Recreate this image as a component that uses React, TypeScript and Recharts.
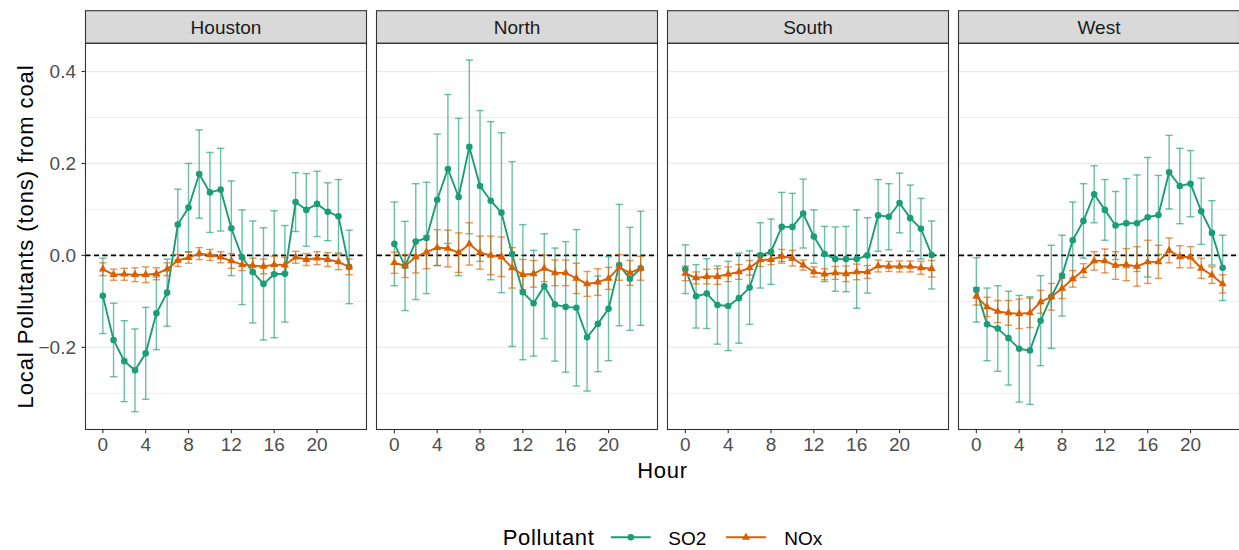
import React from 'react';
import { LineChart, Line, XAxis, YAxis, ErrorBar, ReferenceLine } from 'recharts';

const HOURS = [0, 1, 2, 3, 4, 5, 6, 7, 8, 9, 10, 11, 12, 13, 14, 15, 16, 17, 18, 19, 20, 21, 22, 23];
const REGIONS = ['Houston', 'North', 'South', 'West'];
const POLLUTANTS = ['SO2', 'NOx'];
const X_TICKS = [0, 4, 8, 12, 16, 20];
const Y_TICKS = [-0.2, 0, 0.2, 0.4];
const MINOR_GRID = [-0.3, -0.1, 0.1, 0.3];

const HOUSTON_SO2 = [-0.088, -0.184, -0.230, -0.250, -0.213, -0.126, -0.081, 0.067, 0.104, 0.177, 0.137, 0.143, 0.059, -0.004, -0.036, -0.062, -0.041, -0.040, 0.116, 0.099, 0.112, 0.095, 0.085, -0.025];
const HOUSTON_SO2_CI = [0.082, 0.080, 0.088, 0.090, 0.100, 0.079, 0.073, 0.077, 0.096, 0.096, 0.087, 0.090, 0.103, 0.103, 0.111, 0.122, 0.138, 0.105, 0.064, 0.079, 0.071, 0.063, 0.080, 0.080];
const HOUSTON_NOX = [-0.030, -0.042, -0.041, -0.042, -0.042, -0.040, -0.030, -0.011, -0.005, 0.004, 0.001, -0.004, -0.012, -0.020, -0.022, -0.024, -0.020, -0.021, -0.004, -0.009, -0.006, -0.009, -0.014, -0.025];
const HOUSTON_NOX_CI = [0.014, 0.012, 0.013, 0.015, 0.017, 0.013, 0.014, 0.013, 0.012, 0.013, 0.012, 0.012, 0.016, 0.013, 0.016, 0.016, 0.018, 0.017, 0.013, 0.013, 0.014, 0.015, 0.017, 0.017];

const NORTH_SO2 = [0.025, -0.023, 0.030, 0.038, 0.121, 0.188, 0.127, 0.236, 0.151, 0.119, 0.093, 0.003, -0.080, -0.104, -0.067, -0.107, -0.112, -0.114, -0.178, -0.149, -0.116, -0.021, -0.051, -0.028];
const NORTH_SO2_CI = [0.091, 0.097, 0.126, 0.121, 0.143, 0.162, 0.171, 0.189, 0.164, 0.172, 0.174, 0.201, 0.147, 0.115, 0.114, 0.123, 0.142, 0.170, 0.117, 0.104, 0.113, 0.132, 0.112, 0.124];
const NORTH_NOX = [-0.016, -0.023, -0.003, 0.007, 0.017, 0.015, 0.006, 0.025, 0.006, 0.000, -0.003, -0.027, -0.042, -0.040, -0.028, -0.038, -0.038, -0.050, -0.062, -0.058, -0.050, -0.026, -0.038, -0.028];
const NORTH_NOX_CI = [0.023, 0.025, 0.035, 0.036, 0.039, 0.040, 0.043, 0.046, 0.036, 0.042, 0.043, 0.044, 0.033, 0.029, 0.029, 0.028, 0.028, 0.033, 0.027, 0.029, 0.024, 0.028, 0.027, 0.026];

const SOUTH_SO2 = [-0.030, -0.089, -0.083, -0.108, -0.110, -0.093, -0.070, 0.000, 0.008, 0.062, 0.062, 0.091, 0.041, 0.003, -0.008, -0.008, -0.008, 0.000, 0.087, 0.084, 0.114, 0.081, 0.058, 0.001];
const SOUTH_SO2_CI = [0.053, 0.069, 0.076, 0.085, 0.097, 0.098, 0.080, 0.071, 0.071, 0.075, 0.073, 0.075, 0.058, 0.060, 0.070, 0.071, 0.107, 0.082, 0.078, 0.072, 0.065, 0.072, 0.066, 0.074];
const SOUTH_NOX = [-0.039, -0.049, -0.046, -0.046, -0.041, -0.036, -0.027, -0.010, -0.009, -0.002, -0.006, -0.021, -0.036, -0.041, -0.038, -0.040, -0.036, -0.036, -0.023, -0.024, -0.024, -0.024, -0.027, -0.029];
const SOUTH_NOX_CI = [0.016, 0.013, 0.016, 0.017, 0.016, 0.016, 0.016, 0.014, 0.011, 0.015, 0.017, 0.011, 0.011, 0.012, 0.014, 0.017, 0.017, 0.014, 0.013, 0.011, 0.012, 0.012, 0.014, 0.018];

const WEST_SO2 = [-0.075, -0.150, -0.159, -0.180, -0.203, -0.207, -0.142, -0.090, -0.044, 0.033, 0.075, 0.133, 0.099, 0.065, 0.070, 0.070, 0.083, 0.088, 0.181, 0.151, 0.156, 0.096, 0.049, -0.027];
const WEST_SO2_CI = [0.070, 0.079, 0.093, 0.102, 0.116, 0.117, 0.098, 0.112, 0.088, 0.083, 0.081, 0.062, 0.066, 0.074, 0.097, 0.105, 0.130, 0.086, 0.080, 0.082, 0.072, 0.072, 0.070, 0.071];
const WEST_NOX = [-0.089, -0.112, -0.122, -0.125, -0.127, -0.125, -0.101, -0.090, -0.072, -0.051, -0.033, -0.012, -0.012, -0.022, -0.020, -0.024, -0.014, -0.014, 0.011, -0.003, -0.004, -0.028, -0.043, -0.062];
const WEST_NOX_CI = [0.019, 0.021, 0.024, 0.027, 0.032, 0.032, 0.025, 0.029, 0.022, 0.018, 0.015, 0.020, 0.026, 0.030, 0.035, 0.043, 0.047, 0.036, 0.027, 0.024, 0.023, 0.022, 0.018, 0.020];

const SERIES = [
  [HOUSTON_SO2, HOUSTON_SO2_CI, HOUSTON_NOX, HOUSTON_NOX_CI],
  [NORTH_SO2, NORTH_SO2_CI, NORTH_NOX, NORTH_NOX_CI],
  [SOUTH_SO2, SOUTH_SO2_CI, SOUTH_NOX, SOUTH_NOX_CI],
  [WEST_SO2, WEST_SO2_CI, WEST_NOX, WEST_NOX_CI],
];

const SO2_COLOR = '#1B9E77';
const NOX_COLOR = '#D95F02';
const FONT = '"Liberation Sans", Arial, Helvetica, sans-serif';

const W = 1239;
const H = 550;
const PANEL_TOP = 43.3;
const PANEL_H = 386.2;
const PANEL_W = 281;
const PANEL_LEFTS = [85.5, 376.5, 667.5, 958.5];
const STRIP_TOP = 10.7;
const X_DOMAIN: [number, number] = [-1.62, 24.62];
const Y_DOMAIN: [number, number] = [-0.378, 0.462];
const AXIS_H = 40;
const TRI_R = 4.7;

const fmtY = (v: number) => (v < 0 ? '\u2212' : '') + Math.abs(v).toFixed(1);

const triPath = (cx: number, cy: number, r: number) =>
  `M${cx},${cy - r}L${cx - r * 0.866},${cy + r * 0.5}L${cx + r * 0.866},${cy + r * 0.5}Z`;

function TriangleDot(props: any) {
  const { cx, cy } = props;
  if (cx == null || cy == null) return null;
  return <path d={triPath(cx, cy, TRI_R)} fill={NOX_COLOR} stroke="none" />;
}

function Panel({ idx }: { idx: number }) {
  const [so2, so2ci, nox, noxci] = SERIES[idx];
  const left = PANEL_LEFTS[idx];
  const yw = idx === 0 ? left : 0;
  const data = HOURS.map((h, i) => ({ hour: h, so2: so2[i], so2ci: so2ci[i], nox: nox[i], noxci: noxci[i] }));
  const tickStyle = { fill: '#4D4D4D', fontSize: 19, fontFamily: FONT };
  return (
    <div style={{ position: 'absolute', left: left - yw, top: PANEL_TOP }}>
      <LineChart width={PANEL_W + yw} height={PANEL_H + AXIS_H} data={data} margin={{ top: 0, right: 0, bottom: 0, left: 0 }}>
        <XAxis
          type="number"
          dataKey="hour"
          domain={X_DOMAIN}
          ticks={X_TICKS}
          allowDataOverflow
          interval={0}
          axisLine={false}
          tickLine={{ stroke: '#333333', strokeWidth: 1.1 }}
          tickSize={4}
          tickMargin={4}
          height={AXIS_H}
          tick={tickStyle}
        />
        <YAxis
          type="number"
          domain={Y_DOMAIN}
          ticks={Y_TICKS}
          allowDataOverflow
          interval={0}
          hide={idx !== 0}
          width={yw}
          axisLine={false}
          tickLine={{ stroke: '#333333', strokeWidth: 1.1 }}
          tickSize={4}
          tickMargin={5.5}
          tick={tickStyle}
          tickFormatter={fmtY}
        />
        {MINOR_GRID.map((v) => (
          <ReferenceLine key={'m' + v} y={v} stroke="#EBEBEB" strokeWidth={0.8} />
        ))}
        {Y_TICKS.map((v) => (
          <ReferenceLine key={'g' + v} y={v} stroke="#EBEBEB" strokeWidth={1.3} />
        ))}
        <ReferenceLine y={0} stroke="#000000" strokeWidth={1.8} strokeDasharray="5 3.5" />
        <Line
          type="linear"
          dataKey="so2"
          stroke={SO2_COLOR}
          strokeWidth={1.9}
          dot={{ r: 3.3, fill: SO2_COLOR, stroke: 'none' }}
          activeDot={false}
          isAnimationActive={false}
        >
          <ErrorBar dataKey="so2ci" width={3.7} stroke={SO2_COLOR} strokeOpacity={0.65} strokeWidth={1.4} isAnimationActive={false} />
        </Line>
        <Line
          type="linear"
          dataKey="nox"
          stroke={NOX_COLOR}
          strokeWidth={1.9}
          dot={(p: any) => <TriangleDot key={'t' + p.index} {...p} />}
          activeDot={false}
          isAnimationActive={false}
        >
          <ErrorBar dataKey="noxci" width={3.7} stroke={NOX_COLOR} strokeOpacity={0.65} strokeWidth={1.4} isAnimationActive={false} />
        </Line>
      </LineChart>
    </div>
  );
}

function Overlay() {
  const titleStyle = { fontFamily: FONT, fontSize: 22, fill: '#000000', letterSpacing: 0.9 } as any;
  const legendTitleStyle = { fontFamily: FONT, fontSize: 22, fill: '#000000', letterSpacing: 0.7 } as any;
  const smallStyle = { fontFamily: FONT, fontSize: 19, fill: '#000000' } as any;
  return (
    <svg width={W} height={H} style={{ position: 'absolute', left: 0, top: 0, pointerEvents: 'none' }}>
      {REGIONS.map((r, i) => (
        <g key={r}>
          <rect x={PANEL_LEFTS[i]} y={STRIP_TOP} width={PANEL_W} height={PANEL_TOP - STRIP_TOP} fill="#D9D9D9" stroke="#333333" strokeWidth={1.1} />
          <text x={PANEL_LEFTS[i] + PANEL_W / 2} y={34} textAnchor="middle" style={{ fontFamily: FONT, fontSize: 19, fill: '#1A1A1A' }}>
            {r}
          </text>
          <rect x={PANEL_LEFTS[i]} y={PANEL_TOP} width={PANEL_W} height={PANEL_H} fill="none" stroke="#333333" strokeWidth={1.1} />
        </g>
      ))}
      <text x={662.5} y={478.3} textAnchor="middle" style={legendTitleStyle}>Hour</text>
      <text x={33} y={236.5} textAnchor="middle" transform="rotate(-90, 33, 236.5)" style={titleStyle}>
        Local Pollutants (tons) from coal
      </text>
      <text x={502.7} y={544.5} style={legendTitleStyle}>Pollutant</text>
      <line x1={611} y1={537.3} x2={650.7} y2={537.3} stroke={SO2_COLOR} strokeWidth={1.9} />
      <circle cx={630.8} cy={537.3} r={3.3} fill={SO2_COLOR} />
      <text x={668.3} y={545} style={smallStyle}>{POLLUTANTS[0]}</text>
      <line x1={726} y1={537.3} x2={766} y2={537.3} stroke={NOX_COLOR} strokeWidth={1.9} />
      <path d={triPath(746, 537.3, TRI_R)} fill={NOX_COLOR} />
      <text x={784.3} y={545} style={smallStyle}>{POLLUTANTS[1]}</text>
    </svg>
  );
}

export default function App() {
  return (
    <div style={{ position: 'absolute', left: 0, top: 0, width: W, height: H, background: '#FFFFFF', overflow: 'hidden' }}>
      {REGIONS.map((r, i) => (
        <Panel key={r} idx={i} />
      ))}
      <Overlay />
    </div>
  );
}
